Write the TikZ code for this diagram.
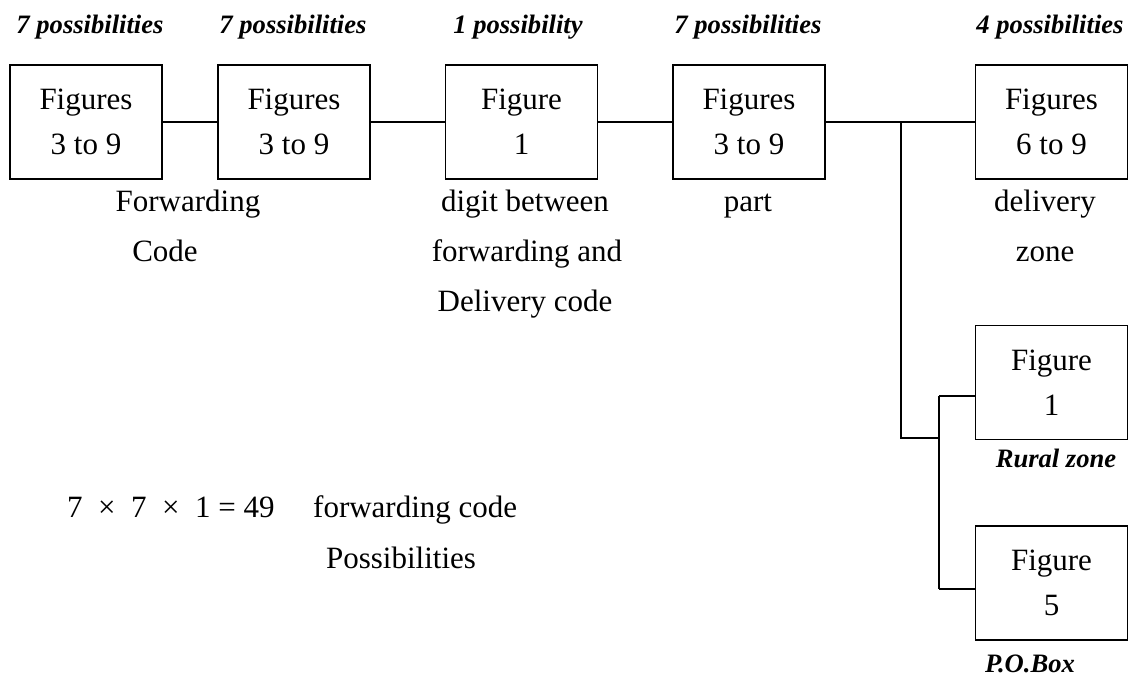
\documentclass[tikz,border=0pt]{standalone}
\usepackage{fontspec}
\setmainfont{Liberation Serif}
\begin{document}
\begin{tikzpicture}[x=1pt,y=-1pt,
  fig/.style={draw, line width=1.8pt, minimum width=152pt, minimum height=114pt, inner sep=0pt, align=center, font=\fontsize{31}{45}\selectfont},
  lbl/.style={anchor=base, inner sep=0pt, font=\fontsize{31}{45}\selectfont},
  poss/.style={anchor=base, inner sep=0pt, font=\fontsize{26.6}{30}\selectfont\bfseries\itshape},
  conn/.style={line width=1.8pt}]
\useasboundingbox (0,0) rectangle (1130,681);

% boxes
\node[fig] (b1) at (86,122) {Figures\\3 to 9};
\node[fig] (b2) at (294,122) {Figures\\3 to 9};
\node[fig] (b3) at (521.5,122) {Figure\\1};
\node[fig] (b4) at (749,122) {Figures\\3 to 9};
\node[fig] (b5) at (1051.5,122) {Figures\\6 to 9};
\node[fig] (b6) at (1051.5,382.5) {Figure\\1};
\node[fig] (b7) at (1051.5,583) {Figure\\5};

% connectors
\draw[conn] (b1) -- (b2);
\draw[conn] (b2) -- (b3);
\draw[conn] (b3) -- (b4);
\draw[conn] (b4) -- (b5);
\coordinate (j1) at (901,122);
\coordinate (j2) at (901,438);
\coordinate (j3) at (939,438);
\coordinate (j4) at (939,396);
\coordinate (j5) at (939,589);
\draw[conn] (j1) -- (j2) -- (j3);
\draw[conn] (j4) -- (j5);
\draw[conn] (j4) -- (j4 -| b6.west);
\draw[conn] (j5) -- (j5 -| b7.west);

% top labels
\node[poss] (p1) at (90,33) {7 possibilities};
\node[poss] (p2) at (293,33) {7 possibilities};
\node[poss] (p3) at (518,33) {1 possibility};
\node[poss] (p4) at (748,33) {7 possibilities};
\node[poss] (p5) at (1050,33) {4 possibilities};

% labels below boxes
\node[lbl] (l1a) at (188,211) {Forwarding};
\node[lbl] (l1b) at (165,261) {Code};
\node[lbl] (l3a) at (525,211) {digit between};
\node[lbl] (l3b) at (527,261) {forwarding and};
\node[lbl] (l3c) at (525,311) {Delivery code};
\node[lbl] (l4a) at (748,211) {part};
\node[lbl] (l5a) at (1045,211) {delivery};
\node[lbl] (l5b) at (1045,261) {zone};
\node[poss] (l6) at (1056,467) {Rural zone};
\node[poss] (l7) at (1030,672) {P.O.Box};

% formula
\node[lbl, anchor=base west] (f1) at (67,517) {7~~×~~7~~×~~1 = 49};
\node[lbl, anchor=base west] (f2) at (313,517) {forwarding code};
\node[lbl] (f3) at (401,568) {Possibilities};
\end{tikzpicture}
\end{document}
